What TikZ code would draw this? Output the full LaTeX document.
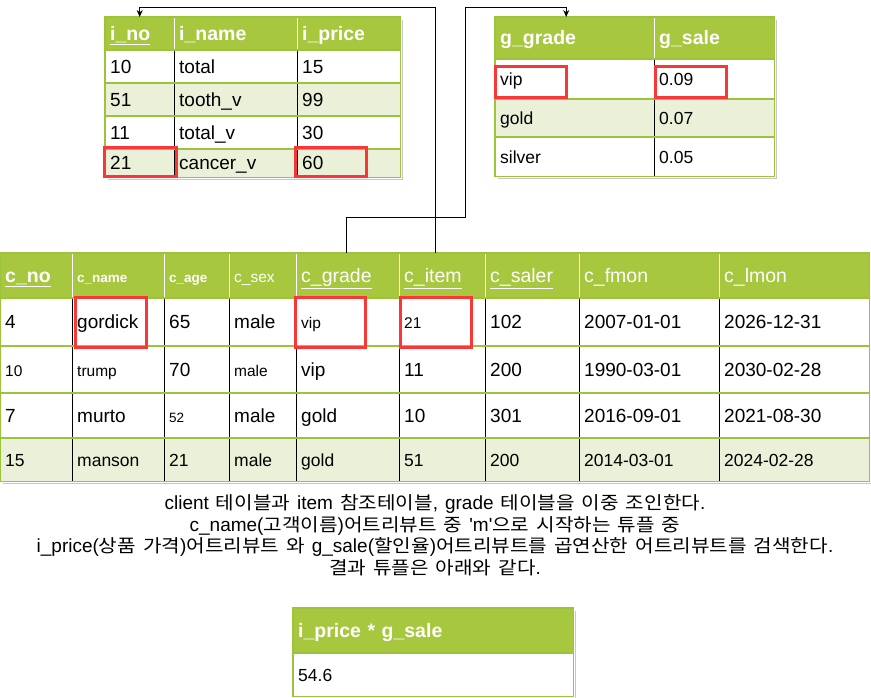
\documentclass[tikz,border=0pt]{standalone}
\usepackage{fontspec}
\usetikzlibrary{arrows.meta}
\setmainfont{Liberation Sans}
\newfontfamily\kofont[FakeStretch=1.12]{Noto Sans CJK KR}
\newcommand{\kor}[1]{{\kofont\fontsize{18}{21.5}\selectfont\spaceskip=7pt\relax #1}}
\newcommand{\fsH}{\fontsize{19.5}{22}\selectfont}
\newcommand{\fsB}{\fontsize{19}{22}\selectfont}
\newcommand{\fsM}{\fontsize{17.5}{20}\selectfont}
\newcommand{\fsS}{\fontsize{15.5}{18}\selectfont}
\newcommand{\fsT}{\fontsize{13.5}{16}\selectfont}
\newcommand{\fsN}{\fontsize{19}{21.5}\selectfont\spaceskip=7pt\relax}
\definecolor{hdgreen}{RGB}{166,199,62}
\definecolor{ltgreen}{RGB}{235,241,216}
\definecolor{lngreen}{RGB}{155,195,60}
\definecolor{hlred}{RGB}{250,55,55}
\begin{document}
\begin{tikzpicture}[x=1pt,y=-1pt,>={Stealth[length=7pt,width=6pt]},line join=miter,
	cell/.style={anchor=north west,inner xsep=5pt,inner ysep=0pt,align=left,font=\fsB,text height=13.5pt,text depth=0pt},
	hcell/.style={cell,fill=hdgreen,text=white,font=\fsH},
	hline/.style={lngreen,line width=1.2pt},
	vline/.style={black,line width=0.8pt},
	hdsep/.style={white,line width=0.8pt},
	border/.style={lngreen,line width=1.5pt},
	tblshadow/.style={black!22,line width=1.5pt},
	hlbox/.style={hlred,line width=3pt},
	link/.style={->,line width=0.8pt}]
	\useasboundingbox (0,0) rectangle (871,698);
	% item table
	\def\ix{{105,174,297,400}}
	\def\iy{{50,83,116,149,177}}
	\foreach \t [count=\c] in {\underline{i\_no},i\_name,i\_price}{
		\pgfmathsetmacro\xa{\ix[\c-1]}
		\pgfmathsetmacro\tw{\ix[\c]-\xa-10}
		\node[hcell,font=\fsH\bfseries,text width=\tw pt,minimum height=33pt] (ih\c) at (\xa,17) {\t};
	}
	\foreach \f/\row [count=\r] in {white/{10,total,15},ltgreen/{51,tooth\_v,99},white/{11,total\_v,30},ltgreen/{21,cancer\_v,60}}{
		\pgfmathsetmacro\ya{\iy[\r-1]}
		\pgfmathsetmacro\rh{\iy[\r]-\ya}
		\foreach \t [count=\c] in \row {
			\pgfmathsetmacro\xa{\ix[\c-1]}
			\pgfmathsetmacro\tw{\ix[\c]-\xa-10}
			\node[cell,fill=\f,text width=\tw pt,minimum height=\rh pt] (ib\r-\c) at (\xa,\ya) {\t};
		}
	}
	\draw[tblshadow] ([shift={(2,3)}]ih3.north east) |- ([shift={(3,2)}]ib4-1.south west);
	\foreach \c in {2,3}{
		\draw[hdsep] (ih\c.north west) -- (ih\c.south west);
		\draw[vline] (ib1-\c.north west) -- (ib4-\c.south west);
	}
	\foreach \r in {1,...,4}
	\draw[hline] (ib\r-1.north west) -- (ib\r-3.north east);
	\draw[border] (ih1.north west) rectangle (ib4-3.south east);
	% grade table
	\def\gx{{495,654,774}}
	\def\gy{{59,99,137,176}}
	\foreach \t [count=\c] in {g\_grade,g\_sale}{
		\pgfmathsetmacro\xa{\gx[\c-1]}
		\pgfmathsetmacro\tw{\gx[\c]-\xa-10}
		\node[hcell,font=\fsH\bfseries,text width=\tw pt,minimum height=42pt] (gh\c) at (\xa,17) {\t};
	}
	\foreach \f/\row [count=\r] in {white/{vip,0.09},ltgreen/{gold,0.07},white/{silver,0.05}}{
		\pgfmathsetmacro\ya{\gy[\r-1]}
		\pgfmathsetmacro\rh{\gy[\r]-\ya}
		\foreach \t [count=\c] in \row {
			\pgfmathsetmacro\xa{\gx[\c-1]}
			\pgfmathsetmacro\tw{\gx[\c]-\xa-10}
			\node[cell,font=\fsM,fill=\f,text width=\tw pt,minimum height=\rh pt] (gb\r-\c) at (\xa,\ya) {\t};
		}
	}
	\draw[tblshadow] ([shift={(2,3)}]gh2.north east) |- ([shift={(3,2)}]gb3-1.south west);
	\draw[hdsep] (gh2.north west) -- (gh2.south west);
	\draw[vline] (gb1-2.north west) -- (gb3-2.south west);
	\foreach \r in {1,...,3}
	\draw[hline] (gb\r-1.north west) -- (gb\r-2.north east);
	\draw[border] (gh1.north west) rectangle (gb3-2.south east);
	% client table
	\def\cx{{0,72,164,229,296,399,485,579,719,869}}
	\def\cy{{298,346,393,438,481}}
	\foreach \t [count=\c] in {{\bfseries\underline{c\_no}},{\fsT\bfseries c\_name},{\fsT\bfseries c\_age},{\fsS c\_sex},\underline{c\_grade},\underline{c\_item},\underline{c\_saler},c\_fmon,c\_lmon}{
		\pgfmathsetmacro\xa{\cx[\c-1]}
		\pgfmathsetmacro\tw{\cx[\c]-\xa-10}
		\node[hcell,text width=\tw pt,minimum height=45pt] (ch\c) at (\xa,253) {\t};
	}
	\foreach \f/\fn/\row [count=\r] in {
		white/\fsB/{4,gordick,65,male,{\fsS vip},{\fsS 21},102,2007-01-01,2026-12-31},
		white/\fsB/{{\fsS 10},{\fsS trump},70,{\fsS male},vip,11,200,1990-03-01,2030-02-28},
		white/\fsB/{7,murto,{\fsT 52},male,gold,10,301,2016-09-01,2021-08-30},
		ltgreen/\fsM/{15,manson,21,male,gold,51,200,2014-03-01,2024-02-28}}{
		\pgfmathsetmacro\ya{\cy[\r-1]}
		\pgfmathsetmacro\rh{\cy[\r]-\ya}
		\foreach \t [count=\c] in \row {
			\pgfmathsetmacro\xa{\cx[\c-1]}
			\pgfmathsetmacro\tw{\cx[\c]-\xa-10}
			\node[cell,font=\fn,fill=\f,text width=\tw pt,minimum height=\rh pt] (cl\r-\c) at (\xa,\ya) {\t};
		}
	}
	\draw[tblshadow] ([shift={(2,3)}]ch9.north east) |- ([shift={(3,2)}]cl4-1.south west);
	\foreach \c in {2,...,9}{
		\draw[hdsep] (ch\c.north west) -- (ch\c.south west);
		\draw[vline] (cl1-\c.north west) -- (cl4-\c.south west);
	}
	\foreach \r in {1,...,4}
	\draw[hline] (cl\r-1.north west) -- (cl\r-9.north east);
	\draw[border] (ch1.north west) rectangle (cl4-9.south east);
	% result table
	\node[hcell,font=\fsH\bfseries,text width=270pt,minimum height=45pt] (rh1) at (293,608) {i\_price * g\_sale};
	\node[cell,font=\fsM,fill=white,text width=270pt,minimum height=43pt] (rb1-1) at (293,653) {54.6};
	\draw[tblshadow] ([shift={(2,3)}]rh1.north east) |- ([shift={(3,2)}]rb1-1.south west);
	\draw[hline] (rb1-1.north west) -- (rb1-1.north east);
	\draw[border] (rh1.north west) rectangle (rb1-1.south east);
	% joins
	\draw[link] ([xshift=-7pt]ch6.north) |- ([yshift=10pt]ih1.north) -- (ih1.north);
	\draw[link] ([xshift=-1.5pt]ch5.north) -- ++(0,-36) -| ++(119,-210) -| ([xshift=-8.5pt]gh1.north);
	% highlights
	\draw[hlbox] (104,148) rectangle (176,177);
	\draw[hlbox] (295,148) rectangle (366,177);
	\draw[hlbox] (495,67) rectangle (566,98);
	\draw[hlbox] (655,67) rectangle (726,98);
	\draw[hlbox] (75,297) rectangle (146,347);
	\draw[hlbox] (295,297) rectangle (365,347);
	\draw[hlbox] (400,297) rectangle (471,347);
	% query text
	\node[font=\fsN,align=center] (note) at (435,535) {client \kor{테이블과} item \kor{참조테이블}, grade \kor{테이블을 이중 조인한다}.\\
		c\_name(\kor{고객이름})\kor{어트리뷰트 중} \textquotesingle m\textquotesingle\kor{으로 시작하는 튜플 중}\\
		i\_price(\kor{상품 가격})\kor{어트리뷰트 와} g\_sale(\kor{할인율})\kor{어트리뷰트를 곱연산한 어트리뷰트를 검색한다}.\\
		\kor{결과 튜플은 아래와 같다}.};
\end{tikzpicture}
\end{document}
